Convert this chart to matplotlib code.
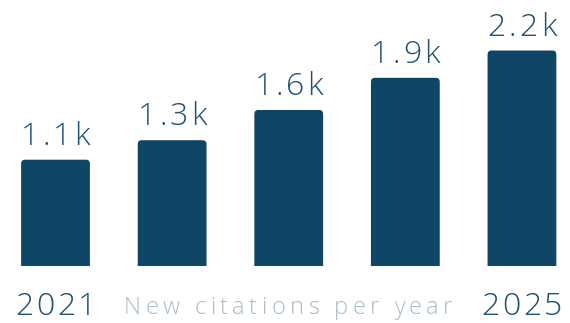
import matplotlib
matplotlib.use("Agg")
import matplotlib.pyplot as plt
from matplotlib.patches import FancyBboxPatch, Rectangle
from matplotlib.font_manager import FontProperties, findfont, get_font
from matplotlib.transforms import offset_copy

years = ["2021", "2022", "2023", "2024", "2025"]
values = [1090, 1290, 1600, 1930, 2210]
labels = ["1.1k", "1.3k", "1.6k", "1.9k", "2.2k"]
caption = "New citations per year"

BAR = "#0f4565"
TXT = "#1f5172"
CAP = "#a9bccb"
DPI = 100

plt.rcParams['font.family'] = ['Open Sans', 'DejaVu Sans']

fig = plt.figure(figsize=(5.70, 3.23), dpi=DPI)
ax = fig.add_axes([0, 0, 1, 1])
ax.set_xlim(-0.476, 4.412)
ax.set_ylim(-585, 2728)
ax.axis('off')


def spaced_text(x, y, s, size, color, spacing_px, dy_px=0, weight='light'):
    prop = FontProperties(family='Open Sans', size=size, weight=weight)
    f = get_font(findfont(prop))
    f.set_size(size, DPI)
    advs = []
    for c in s:
        g = f.load_char(ord(c))
        advs.append(g.linearHoriAdvance / 65536)
    total = sum(advs) + spacing_px * (len(s) - 1)
    cur = -total / 2
    for c, a in zip(s, advs):
        tr = offset_copy(ax.transData, fig=fig, x=cur, y=dy_px, units='dots')
        ax.text(x, y, c, transform=tr, fontproperties=prop, color=color,
                ha='left', va='baseline')
        cur += a + spacing_px


width = 0.59
xs = list(range(len(values)))
bars = ax.bar(xs, values, width=width, color=BAR, alpha=0)
rx = 4 / 116.6
ry = 4 / 97.5 * 1000
for b in bars:
    x0, w, h = b.get_x(), b.get_width(), b.get_height()
    p = FancyBboxPatch((x0 + rx, 0 - 200), w - 2 * rx, h + 200 - ry,
                       boxstyle=f"round,pad={rx},rounding_size={rx}",
                       mutation_aspect=ry / rx, facecolor=BAR, edgecolor='none')
    ax.add_patch(p)
    clip = Rectangle((x0 - 0.1, 0), w + 0.2, h + 500, transform=ax.transData)
    p.set_clip_path(clip)

for x, v, lab in zip(xs, values, labels):
    spaced_text(x, v, lab, 23, TXT, 3.0, dy_px=15)

ybot = -(315 - 266) / 97.5 * 1000
spaced_text(xs[0], ybot, years[0], 23, TXT, 2.6)
spaced_text(xs[-1], ybot, years[-1], 23, TXT, 2.6)
spaced_text((xs[0] + xs[-1]) / 2 - 0.005, ybot + 1 / 97.5 * 1000, caption, 17, CAP, 4.4)

fig.savefig("out.png", dpi=DPI)
